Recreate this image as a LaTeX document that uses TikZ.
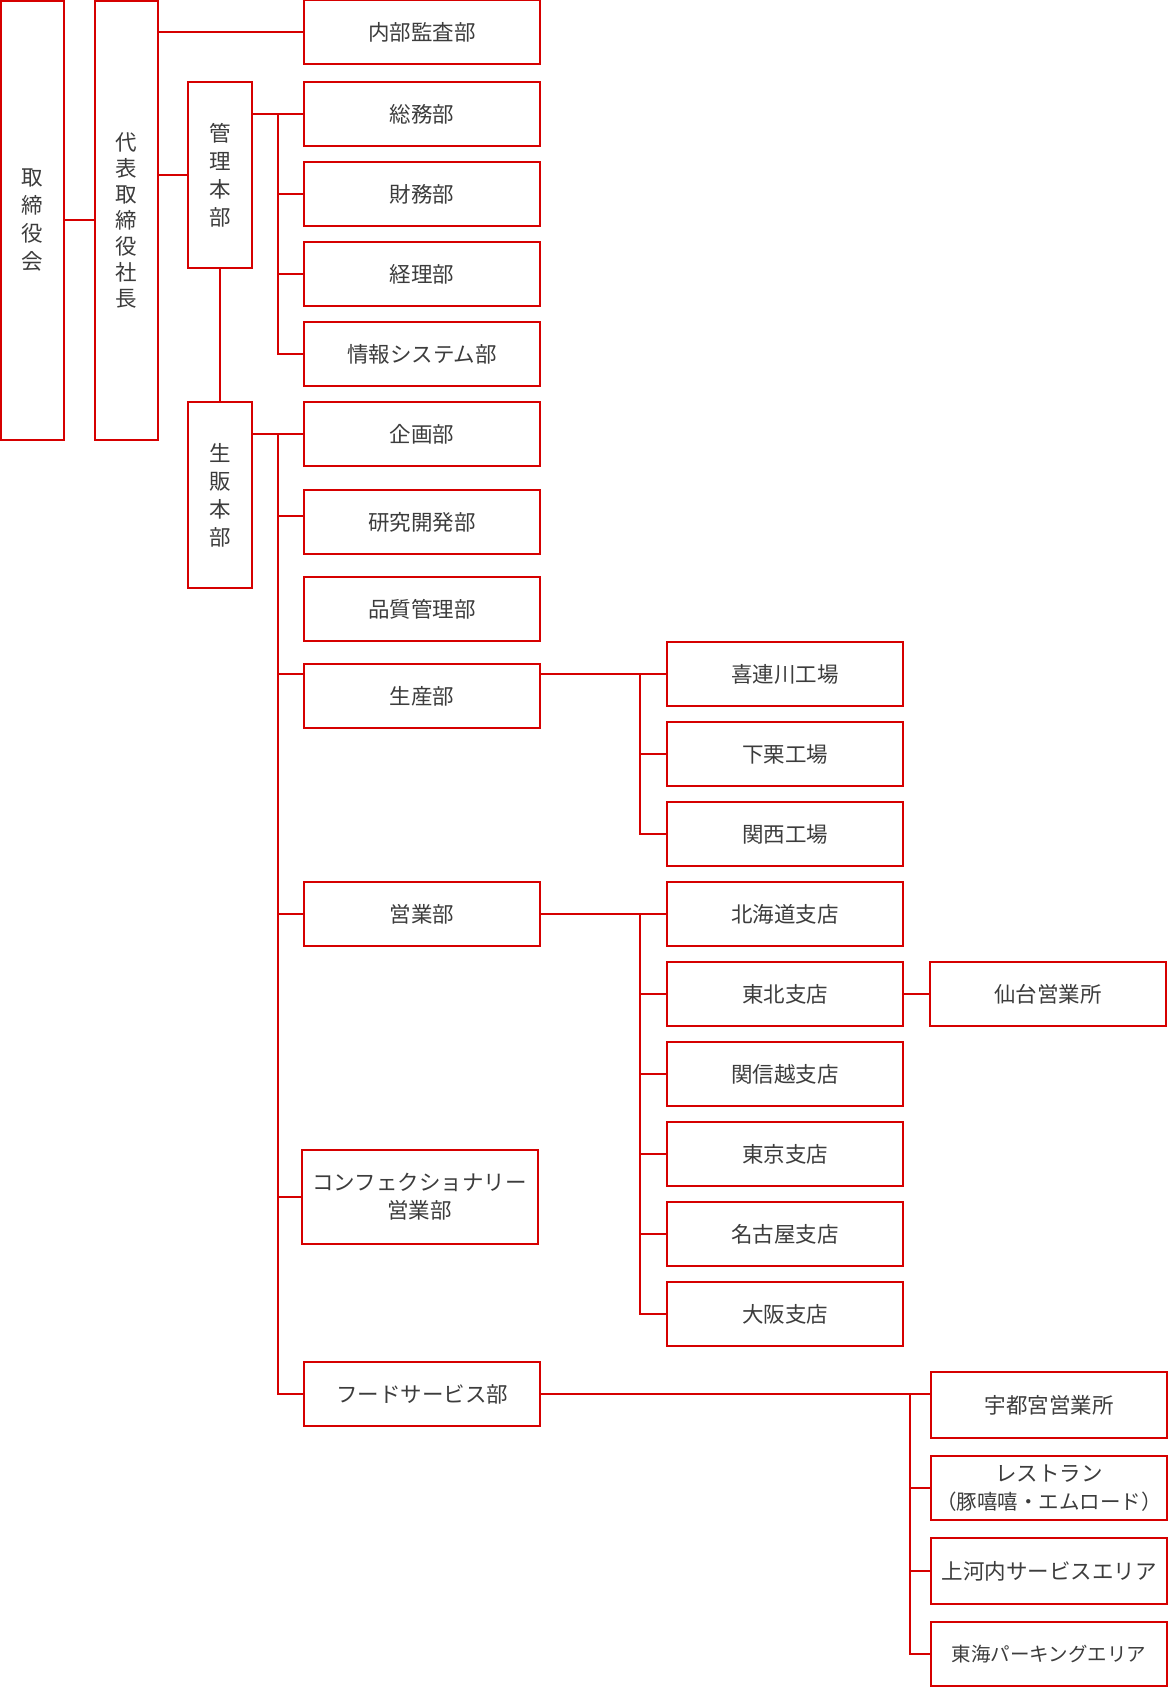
\documentclass[tikz,border=0pt]{standalone}
\usepackage{fontspec}
\setmainfont{Noto Sans CJK JP}
\definecolor{orgred}{RGB}{214,0,0}
\definecolor{orgtext}{RGB}{60,60,60}
\begin{document}
\begin{tikzpicture}[x=1pt, y=-1pt, line width=2pt,
    unit/.style={draw=orgred, text=orgtext, inner sep=0pt, minimum width=236pt,
      minimum height=64pt, align=center, font=\fontsize{21.5}{28}\selectfont},
    tall/.style={unit, minimum width=64pt, minimum height=186pt},
    link/.style={draw=orgred, line cap=rect}]
    \useasboundingbox (0,0) rectangle (1170,1688);

    \node[tall, minimum width=63pt, minimum height=439pt] (torishimari) at (32.5,220.5) {取\\締\\役\\会};
    \node[tall, minimum width=63pt, minimum height=439pt, font=\fontsize{21.5}{26}\selectfont] (daihyo) at (126.5,220.5) {代\\表\\取\\締\\役\\社\\長};
    \node[tall] (kanri) at (220,175) {管\\理\\本\\部};
    \node[tall] (seihan) at (220,495) {生\\販\\本\\部};

    \node[unit] (naibu) at (422,32.5) {内部監査部};
    \node[unit] (soumu) at (422,114) {総務部};
    \node[unit] (zaimu) at (422,194) {財務部};
    \node[unit] (keiri) at (422,274) {経理部};
    \node[unit] (jouhou) at (422,354) {情報システム部};
    \node[unit] (kikaku) at (422,434) {企画部};
    \node[unit] (kenkyu) at (422,522) {研究開発部};
    \node[unit] (hinshitsu) at (422,609) {品質管理部};
    \node[unit] (seisan) at (422,696) {生産部};
    \node[unit] (eigyo) at (422,914) {営業部};
    \node[unit, minimum height=94pt] (confect) at (419.5,1197) {コンフェクショナリー\\営業部};
    \node[unit] (food) at (422,1394) {フードサービス部};

    \node[unit] (kiren) at (785,674) {喜連川工場};
    \node[unit] (shimokuri) at (785,754) {下栗工場};
    \node[unit] (kansai) at (785,834) {関西工場};
    \node[unit] (hokkaido) at (785,914) {北海道支店};
    \node[unit] (tohoku) at (785,994) {東北支店};
    \node[unit] (shinetsu) at (785,1074) {関信越支店};
    \node[unit] (tokyo) at (785,1154) {東京支店};
    \node[unit] (nagoya) at (785,1234) {名古屋支店};
    \node[unit] (osaka) at (785,1314) {大阪支店};

    \node[unit] (sendai) at (1048,994) {仙台営業所};
    \node[unit, minimum height=66pt] (utsunomiya) at (1049,1405) {宇都宮営業所};
    \node[unit] (restaurant) at (1049,1488) {レストラン\\{\fontsize{20.5}{27}\selectfont （豚嘻嘻・エムロード）}};
    \node[unit, minimum height=66pt] (kamikawachi) at (1049,1571) {上河内サービスエリア};
    \node[unit, font=\fontsize{19.5}{26}\selectfont] (tokai) at (1049,1654) {東海パーキングエリア};

    \coordinate (mbus) at (278,0);
    \coordinate (pbus) at (640,0);
    \coordinate (fbus) at (910,0);
    \coordinate (kenkyuL) at ([yshift=6pt]kenkyu.west);

    \draw[link] (torishimari) -- (daihyo);
    \draw[link] (daihyo.east |- naibu) -- (naibu.west);
    \draw[link] (daihyo.east |- kanri) -- (kanri.west);
    \draw[link] (kanri) -- (seihan);

    \draw[link] (kanri.east |- soumu) -- (soumu.west);
    \draw[link] (mbus |- soumu) |- (jouhou.west);
    \draw[link] (mbus |- zaimu) -- (zaimu.west);
    \draw[link] (mbus |- keiri) -- (keiri.west);

    \draw[link] (seihan.east |- kikaku) -- (kikaku.west);
    \draw[link] (mbus |- kikaku) |- (food.west);
    \draw[link] (mbus |- kenkyuL) -- (kenkyuL);
    \draw[link] (mbus |- kiren) -- (seisan.west |- kiren);
    \draw[link] (mbus |- eigyo) -- (eigyo.west);
    \draw[link] (mbus |- confect) -- (confect.west);

    \draw[link] (seisan.east |- kiren) -- (kiren.west);
    \draw[link] (pbus |- kiren) |- (kansai.west);
    \draw[link] (pbus |- shimokuri) -- (shimokuri.west);

    \draw[link] (eigyo.east) -- (hokkaido.west);
    \draw[link] (pbus |- hokkaido) |- (osaka.west);
    \draw[link] (pbus |- tohoku) -- (tohoku.west);
    \draw[link] (pbus |- shinetsu) -- (shinetsu.west);
    \draw[link] (pbus |- tokyo) -- (tokyo.west);
    \draw[link] (pbus |- nagoya) -- (nagoya.west);
    \draw[link] (tohoku.east) -- (sendai.west);

    \draw[link] (food.east) -- (utsunomiya.west |- food.east);
    \draw[link] (fbus |- food) |- (tokai.west);
    \draw[link] (fbus |- restaurant) -- (restaurant.west);
    \draw[link] (fbus |- kamikawachi) -- (kamikawachi.west);
\end{tikzpicture}
\end{document}
